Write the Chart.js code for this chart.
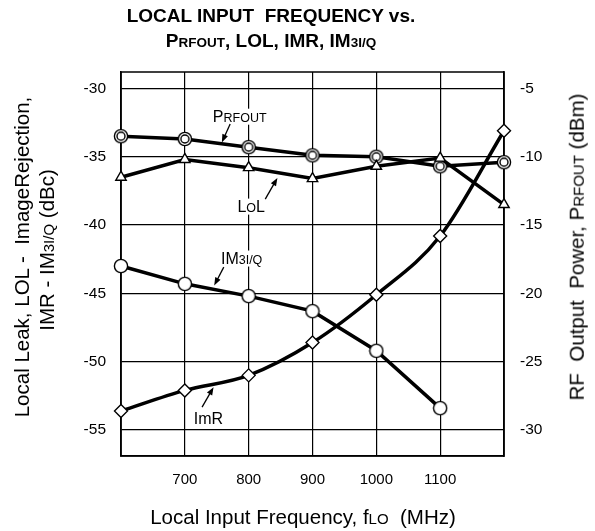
<!DOCTYPE html>
<html>
<head>
<meta charset="utf-8">
<script src="https://cdn.jsdelivr.net/npm/chart.js@4.4.0/dist/chart.umd.min.js"></script>
<style>
  body { margin: 0; background: #fff; font-family: Arial, "Liberation Sans", sans-serif; }
  #wrap { position: relative; width: 595px; height: 531px; overflow: hidden; }
  canvas { position: absolute; left: 0; top: 0; }
  .txt { position: absolute; white-space: nowrap; color: #000; line-height: 1; transform: translate(-50%, -50%); }
  .rot { transform: translate(-50%, -50%) rotate(-90deg); }
  .ttl { font-weight: bold; font-size: 19px; }
  .ttl small { font-size: 13.5px; }
  .ax { font-size: 20.5px; }
  .ax small { font-size: 15px; }
</style>
</head>
<body>
<div id="wrap">
  <canvas id="chart" width="595" height="531"></canvas>
  <div class="txt ttl" style="left:271px;top:15px;">LOCAL INPUT&nbsp; FREQUENCY vs.</div>
  <div class="txt ttl" style="left:271px;top:40px;">P<small>RFOUT</small>, LOL, IMR, IM<small>3I/Q</small></div>
  <div class="txt ax rot" style="left:22px;top:257px;">Local Leak, LOL -&nbsp; ImageRejection,</div>
  <div class="txt ax rot" style="left:47px;top:250px;">IMR - IM<small>3I/Q</small> (dBc)</div>
  <div class="txt ax rot" style="left:577px;top:247px;">RF&nbsp; Output&nbsp; Power, P<small>RFOUT</small> (dBm)</div>
  <div class="txt ax" style="left:303px;top:517px;">Local Input Frequency, f<small>LO</small>&nbsp; (MHz)</div>
</div>
<script>
// frequencies (MHz)
const freqs = [600, 700, 800, 900, 1000, 1100, 1200];
// left axis, dBc
const lol = [-36.5, -35.2, -35.8, -36.6, -35.7, -35.1, -38.5];
const im3 = [-43.0, -44.3, -45.2, -46.3, -49.2, -53.4];
const imr = [-53.6, -52.1, -51.0, -48.6, -45.1, -40.8, -33.1];
// right axis, dBm
const prfout = [-8.5, -8.7, -9.3, -9.9, -10.0, -10.7, -10.4];

const xTicks = [700, 800, 900, 1000, 1100];
const leftTicks = [-55, -50, -45, -40, -35, -30];
const rightTicks = [-30, -25, -20, -15, -10, -5];
const leftMin = -56.9, leftMax = -28.8;
const rightOffset = 25;

// annotation labels with arrows (data units)
const labelSpots = [
  { parts: [["P", 16], ["RFOUT", 12.5]], at: [786, -32.07], tail: [771, -32.6], tip: [758, -33.95] },
  { parts: [["L", 16], ["O", 12.5], ["L", 16]], at: [804, -38.65], tail: [826, -38.1], tip: [845, -36.55] },
  { parts: [["IM", 16], ["3I/Q", 12.5]], at: [789, -42.45], tail: [761, -43.08], tip: [746, -44.43] },
  { parts: [["ImR", 16]], at: [737, -54.1], tail: [727, -53.32], tip: [745, -51.86] },
];

const FONT = 'Arial, "Liberation Sans", sans-serif';

function pts(ys) {
  return ys.map((y, i) => ({ x: freqs[i], y: y }));
}

function markerImg(kind) {
  const c = document.createElement("canvas");
  c.width = 16; c.height = 16;
  const g = c.getContext("2d");
  g.lineWidth = 1.4;
  g.strokeStyle = "#000";
  g.fillStyle = "#fff";
  g.beginPath(); g.arc(8, 8, 6.6, 0, Math.PI * 2); g.fill(); g.stroke();
  if (kind === "double") {
    g.beginPath(); g.arc(8, 8, 4, 0, Math.PI * 2); g.stroke();
  }
  return c;
}

const framePlugin = {
  id: "frame",
  beforeDatasetsDraw(chart) {
    const a = chart.chartArea, ctx = chart.ctx;
    ctx.save();
    ctx.strokeStyle = "#000";
    ctx.lineWidth = 1.5;
    ctx.strokeRect(a.left, a.top, a.right - a.left, a.bottom - a.top);
    ctx.restore();
  },
};

const notePlugin = {
  id: "notes",
  afterDatasetsDraw(chart) {
    const ctx = chart.ctx, sx = chart.scales.x, sy = chart.scales.y;
    ctx.save();
    labelSpots.forEach((n) => {
      // text
      let w = 0;
      n.parts.forEach(([t, s]) => { ctx.font = s + "px " + FONT; w += ctx.measureText(t).width; });
      const cx = sx.getPixelForValue(n.at[0]), cy = sy.getPixelForValue(n.at[1]);
      ctx.fillStyle = "#fff";
      ctx.fillRect(cx - w / 2 - 2, cy - 8, w + 4, 16);
      ctx.fillStyle = "#000";
      ctx.textBaseline = "alphabetic";
      let x = cx - w / 2;
      n.parts.forEach(([t, s]) => {
        ctx.font = s + "px " + FONT;
        ctx.fillText(t, x, cy + 5.8);
        x += ctx.measureText(t).width;
      });
      // arrow
      const x0 = sx.getPixelForValue(n.tail[0]), y0 = sy.getPixelForValue(n.tail[1]);
      const x1 = sx.getPixelForValue(n.tip[0]), y1 = sy.getPixelForValue(n.tip[1]);
      const ang = Math.atan2(y1 - y0, x1 - x0);
      ctx.strokeStyle = "#000";
      ctx.lineWidth = 1.3;
      ctx.beginPath();
      ctx.moveTo(x0, y0);
      ctx.lineTo(x1 - 6 * Math.cos(ang), y1 - 6 * Math.sin(ang));
      ctx.stroke();
      ctx.beginPath();
      ctx.moveTo(x1, y1);
      ctx.lineTo(x1 - 8 * Math.cos(ang) + 3 * Math.sin(ang), y1 - 8 * Math.sin(ang) - 3 * Math.cos(ang));
      ctx.lineTo(x1 - 8 * Math.cos(ang) - 3 * Math.sin(ang), y1 - 8 * Math.sin(ang) + 3 * Math.cos(ang));
      ctx.closePath();
      ctx.fillStyle = "#000";
      ctx.fill();
    });
    ctx.restore();
  },
};

const lineBase = {
  borderColor: "#000",
  borderWidth: 3.5,
  pointBackgroundColor: "#fff",
  pointBorderColor: "#000",
  pointBorderWidth: 1.4,
  tension: 0,
  fill: false,
  clip: false,
};

new Chart(document.getElementById("chart"), {
  type: "line",
  data: {
    datasets: [
      Object.assign({}, lineBase, { label: "IMR", data: pts(imr), yAxisID: "y", pointStyle: "rectRot", pointRadius: 6.5, cubicInterpolationMode: "monotone" }),
      Object.assign({}, lineBase, { label: "IM3", data: pts(im3), yAxisID: "y", pointStyle: markerImg("single") }),
      Object.assign({}, lineBase, { label: "LOL", data: pts(lol), yAxisID: "y", pointStyle: "triangle", pointRadius: 6 }),
      Object.assign({}, lineBase, { label: "PRFOUT", data: pts(prfout), yAxisID: "y2", pointStyle: markerImg("double") }),
    ],
  },
  options: {
    responsive: false,
    animation: false,
    layout: { padding: { top: 72, left: 0, right: 0, bottom: 0 } },
    plugins: { legend: { display: false }, tooltip: { enabled: false } },
    scales: {
      x: {
        type: "linear",
        min: freqs[0],
        max: freqs[freqs.length - 1],
        afterFit: (s) => { s.height = 75; },
        afterBuildTicks: (s) => { s.ticks = freqs.map((v) => ({ value: v })); },
        grid: { color: "#000", lineWidth: 1.2, drawTicks: false },
        border: { color: "#000", width: 1.5 },
        ticks: {
          color: "#000",
          padding: 15,
          font: { family: FONT, size: 15 },
          callback: (v) => (xTicks.includes(v) ? String(v) : ""),
        },
      },
      y: {
        position: "left",
        min: leftMin,
        max: leftMax,
        afterFit: (s) => { s.width = 121; },
        afterBuildTicks: (s) => { s.ticks = leftTicks.map((v) => ({ value: v })); },
        grid: { color: "#000", lineWidth: 1.2, drawTicks: false },
        border: { color: "#000", width: 1.5 },
        ticks: { color: "#000", padding: 15, font: { family: FONT, size: 15.5 } },
      },
      y2: {
        position: "right",
        min: leftMin + rightOffset,
        max: leftMax + rightOffset,
        afterFit: (s) => { s.width = 91; },
        afterBuildTicks: (s) => { s.ticks = rightTicks.map((v) => ({ value: v })); },
        grid: { display: false, drawTicks: false },
        border: { color: "#000", width: 1.5 },
        ticks: { color: "#000", padding: 16, font: { family: FONT, size: 15.5 } },
      },
    },
  },
  plugins: [framePlugin, notePlugin],
});
</script>
</body>
</html>
